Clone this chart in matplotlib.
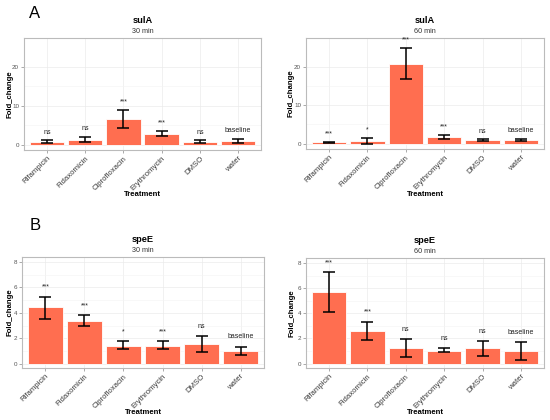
import matplotlib
matplotlib.use("Agg")
import matplotlib.pyplot as plt
import matplotlib.transforms as mtransforms
import numpy as np

plt.rcParams["font.family"] = ["Liberation Sans", "DejaVu Sans"]

# Treatments on the x axis
treatments = ["Rifampicin", "Fidaxomicin", "Ciprofloxacin", "Erythromycin", "DMSO", "water"]

# sulA fold change (mean, lower, upper of error bar) and significance labels
sula_30_mean = [0.7, 1.3, 6.7, 2.85, 0.75, 1.0]
sula_30_low = [0.3, 0.6, 4.4, 2.1, 0.35, 0.45]
sula_30_high = [1.1, 2.0, 9.0, 3.6, 1.1, 1.5]
sula_30_sig = ["ns", "ns", "***", "***", "ns", "baseline"]

sula_60_mean = [0.35, 0.7, 20.8, 1.65, 0.9, 0.95]
sula_60_low = [0.2, 0.0, 16.7, 1.1, 0.6, 0.6]
sula_60_high = [0.5, 1.5, 24.8, 2.15, 1.1, 1.2]
sula_60_sig = ["***", "*", "***", "***", "ns", "baseline"]

# speE fold change
spee_30_mean = [4.42, 3.37, 1.39, 1.42, 1.58, 0.97]
spee_30_low = [3.55, 2.95, 1.13, 1.13, 0.95, 0.68]
spee_30_high = [5.26, 3.79, 1.74, 1.74, 2.18, 1.32]
spee_30_sig = ["***", "***", "*", "***", "ns", "baseline"]

spee_60_mean = [5.67, 2.57, 1.22, 1.03, 1.22, 0.98]
spee_60_low = [4.08, 1.91, 0.56, 0.90, 0.64, 0.29]
spee_60_high = [7.26, 3.34, 1.93, 1.25, 1.77, 1.72]
spee_60_sig = ["***", "***", "ns", "ns", "ns", "baseline"]

bar_color = "#FF6E50"
W, H = 550, 420


def ax_rect(x0, y0, x1, y1):
    return [x0 / W, 1 - y1 / H, (x1 - x0) / W, (y1 - y0) / H]


def draw_panel(ax, gene, time, mean, low, high, sig, ylim, yticks, offset, ylab_x, xlab_y):
    fig = ax.figure
    x = np.arange(len(treatments))
    mean = np.array(mean)
    low = np.array(low)
    high = np.array(high)
    ax.set_axisbelow(True)
    ax.bar(x, mean, width=0.9, color=bar_color, edgecolor="white", linewidth=0.6, zorder=2)
    ax.errorbar(x, mean, yerr=[mean - low, high - mean], fmt="none",
                ecolor="black", elinewidth=1.1, capsize=4, capthick=1.1, zorder=3)
    for xi, hi, s in zip(x, high, sig):
        ax.text(xi, hi + offset, s, ha="center", va="center", fontsize=5, color="#222222")
    ax.set_ylim(*ylim)
    ax.set_xlim(-0.6, len(treatments) - 0.4)
    ax.set_yticks(yticks)
    ax.set_yticks([(a + b) / 2 for a, b in zip(yticks[:-1], yticks[1:])], minor=True)
    ax.set_xticks(x)
    ax.set_xticklabels(treatments, rotation=45, ha="right", rotation_mode="anchor",
                       fontsize=5.6, color="#3A3A3A")
    ax.tick_params(axis="y", labelsize=4.5, labelcolor="#555555", length=2,
                   color="#888888", width=0.5, pad=1.5)
    ax.tick_params(axis="x", length=2, color="#888888", width=0.5, pad=1.5)
    ax.tick_params(which="minor", length=0)
    ax.grid(True, which="major", color="#EBEBEB", linewidth=0.5)
    ax.grid(True, which="minor", color="#F4F4F4", linewidth=0.4)
    for sp in ax.spines.values():
        sp.set_color("#BBBBBB")
        sp.set_linewidth(0.8)
    ax.set_ylabel("Fold_change", fontsize=5.6, fontweight="bold")
    ax.set_xlabel("Treatment", fontsize=5.6, fontweight="bold")
    ax.yaxis.set_label_coords(
        ylab_x, 0.5, transform=mtransforms.blended_transform_factory(fig.transFigure, ax.transAxes))
    ax.xaxis.set_label_coords(
        0.5, xlab_y, transform=mtransforms.blended_transform_factory(ax.transAxes, fig.transFigure))
    ax.xaxis.label.set_va("center")
    ax.yaxis.label.set_va("center")
    ax.text(0.5, 1.16, gene, transform=ax.transAxes, ha="center", va="center",
            fontsize=6.7, fontweight="bold")
    ax.text(0.5, 1.06, time, transform=ax.transAxes, ha="center", va="center",
            fontsize=5.2, color="#333333")


fig = plt.figure(figsize=(5.5, 4.2), dpi=100)
fig.patch.set_facecolor("white")

ax1 = fig.add_axes(ax_rect(24, 38, 261, 150))
ax2 = fig.add_axes(ax_rect(306, 38, 544, 149))
ax3 = fig.add_axes(ax_rect(22, 257, 264, 368))
ax4 = fig.add_axes(ax_rect(306, 258, 544, 368))

draw_panel(ax1, "sulA", "30 min", sula_30_mean, sula_30_low, sula_30_high, sula_30_sig,
           (-1.4, 27.5), [0, 10, 20], 2.1, 10 / W, 1 - 194 / H)
draw_panel(ax2, "sulA", "60 min", sula_60_mean, sula_60_low, sula_60_high, sula_60_sig,
           (-1.4, 27.5), [0, 10, 20], 2.1, 291 / W, 1 - 194 / H)
draw_panel(ax3, "speE", "30 min", spee_30_mean, spee_30_low, spee_30_high, spee_30_sig,
           (-0.35, 8.4), [0, 2, 4, 6, 8], 0.78, 10 / W, 1 - 412 / H)
draw_panel(ax4, "speE", "60 min", spee_60_mean, spee_60_low, spee_60_high, spee_60_sig,
           (-0.35, 8.4), [0, 2, 4, 6, 8], 0.78, 292 / W, 1 - 412 / H)

fig.text(35 / W, 1 - 13 / H, "A", fontsize=12, ha="center", va="center")
fig.text(35 / W, 1 - 226 / H, "B", fontsize=12, ha="center", va="center")

fig.savefig("out.png", dpi=100)
